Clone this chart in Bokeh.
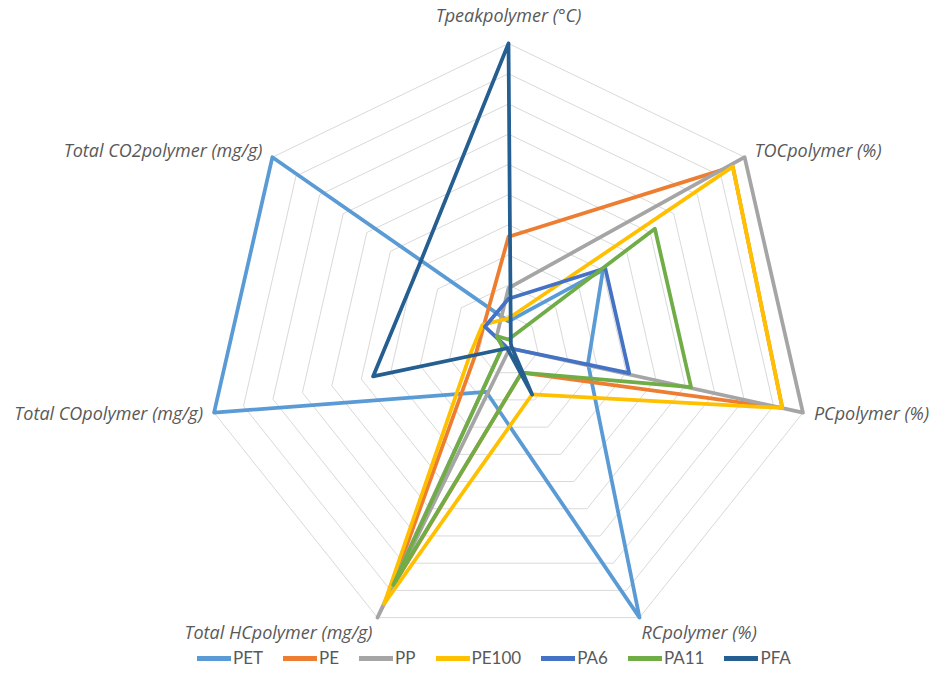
import numpy as np
from bokeh.plotting import figure
from bokeh.models import Range1d, Label, Legend, LegendItem
from bokeh.embed import file_html
from bokeh.resources import INLINE

categories = ["Tpeakpolymer (°C)", "TOCpolymer (%)", "PCpolymer (%)", "RCpolymer (%)",
              "Total HCpolymer (mg/g)", "Total COpolymer (mg/g)", "Total CO2polymer (mg/g)"]
series_names = ["PET", "PE", "PP", "PE100", "PA6", "PA11", "PFA"]
# values relative to the outer ring (0..1)
PET = [0.08, 0.40, 0.27, 1.00, 0.17, 1.00, 1.00]
PE = [0.36, 0.95, 0.93, 0.10, 0.90, 0.11, 0.105]
PP = [0.19, 1.00, 1.00, 0.01, 1.00, 0.02, 0.05]
PE100 = [0.09, 0.95, 0.93, 0.18, 0.95, 0.13, 0.11]
PA6 = [0.155, 0.41, 0.41, 0.01, 0.01, 0.01, 0.10]
PA11 = [0.02, 0.62, 0.62, 0.10, 0.88, 0.02, 0.05]
PFA = [1.00, 0.01, 0.01, 0.18, 0.01, 0.46, 0.39]
series_values = [PET, PE, PP, PE100, PA6, PA11, PFA]
colors = ["#5B9BD5", "#ED7D31", "#A5A5A5", "#FFC000", "#4472C4", "#70AD47", "#255E91"]
n_rings = 10

W, H = 932, 684
S = 302.0
cx, cy = 508.0, 345.0

p = figure(width=W, height=H, output_backend="svg", toolbar_location=None,
           x_range=Range1d(-cx / S, (W - cx) / S), y_range=Range1d(-(H - cy) / S, cy / S),
           min_border=0, outline_line_color=None, background_fill_color="white",
           border_fill_color="white")
p.axis.visible = False
p.grid.visible = False

n = len(categories)
theta = np.arange(n) * 2 * np.pi / n
ux, uy = np.sin(theta), np.cos(theta)

for i in range(1, n_rings + 1):
    r = i / n_rings
    p.line(list(np.append(r * ux, r * ux[0])), list(np.append(r * uy, r * uy[0])),
           line_color="#D9D9D9", line_width=1)

items = []
for name, vals, col in zip(series_names, series_values, colors):
    v = np.array(vals)
    xs = np.append(v * ux, v[0] * ux[0])
    ys = np.append(v * uy, v[0] * uy[0])
    p.line(list(xs), list(ys), line_color=col, line_width=3.75,
           line_join="round", line_cap="round")
    # off-frame renderer used only for the thicker legend swatch
    dummy = p.line([-50, -50.1], [-50, -50.1], line_color=col, line_width=5,
                   line_cap="round")
    items.append(LegendItem(label=name, renderers=[dummy]))

legend = Legend(items=items, orientation="horizontal", location=(197, 16),
                glyph_width=34, glyph_height=16, label_height=16, label_standoff=2,
                spacing=20, padding=0, margin=0, border_line_color=None,
                background_fill_alpha=0, label_text_font="Lato",
                label_text_font_size="17px", label_text_color="#595959")
p.add_layout(legend)

# label offsets in px relative to each outer vertex: (dx, dy, align)
offs = [(0, 29, "center"), (10, 7, "left"), (11, 0, "left"), (2, -14, "left"),
        (-5, -14, "right"), (-11, 0, "right"), (-10, 7, "right")]
for k, cat in enumerate(categories):
    dx, dy, al = offs[k]
    p.add_layout(Label(x=ux[k], y=uy[k], x_offset=dx, y_offset=dy, text=cat,
                       text_align=al, text_baseline="middle", text_font="Open Sans",
                       text_font_style="italic", text_font_size="18px",
                       text_color="#595959"))

open("out.html", "w").write(file_html(p, INLINE))
